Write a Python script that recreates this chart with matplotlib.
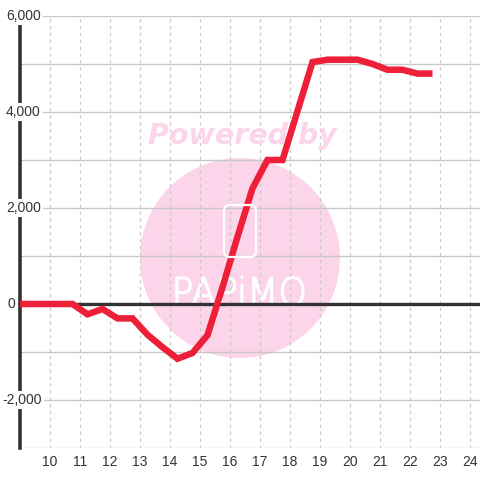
import matplotlib
matplotlib.use("Agg")
import matplotlib.pyplot as plt
from matplotlib.patches import Circle, FancyBboxPatch, PathPatch
from matplotlib.textpath import TextPath
from matplotlib.font_manager import FontProperties
from matplotlib.transforms import Affine2D

hours = [8.75, 9.25, 9.75, 10.25, 10.75, 11.25, 11.75, 12.25, 12.75, 13.25,
         13.75, 14.25, 14.75, 15.25, 15.75, 16.25, 16.75, 17.25, 17.75, 18.25,
         18.75, 19.25, 19.75, 20.25, 20.75, 21.25, 21.75, 22.25, 22.75]
values = [0, 0, 0, 0, 0, -215, -104, -300, -300, -640,
          -900, -1140, -1020, -650, 350, 1400, 2410, 3000, 3000, 4020,
          5040, 5090, 5090, 5090, 5000, 4880, 4880, 4800, 4800]
x_ticks = list(range(10, 25))
y_ticks = [-2000, 0, 2000, 4000, 6000]
y_grid = list(range(-3000, 7000, 1000))

plt.rcParams['font.family'] = ['Liberation Sans', 'DejaVu Sans']

fig = plt.figure(figsize=(4.8, 4.8), dpi=100)
ax = fig.add_axes([20/480, 32/480, 460/480, 432/480])
ax.set_xlim(9, 9 + 460/30)
ax.set_ylim(-3000, 6000)

for s in ['top', 'right', 'bottom']:
    ax.spines[s].set_visible(False)
ax.spines['left'].set_color('#333333')
ax.spines['left'].set_linewidth(2.6)
ax.spines['left'].set_zorder(4)

# grid
for yv in y_grid:
    ax.axhline(yv, color='#c8c8c8', lw=1.0, zorder=1)
for xv in x_ticks:
    ax.axvline(xv, color='#c8c8c8', lw=0.9, ls=(0, (2.5, 3)), zorder=1)
ax.axhline(0, color='#333333', lw=2.4, zorder=3)

# watermark
pink = '#fcd5ea'
ax.add_patch(Circle((240, 480-258), 100, transform=None, facecolor=pink,
                    edgecolor='none', zorder=0))
fig.text(242/480, 1 - 136/480, 'Powered by', color=pink, fontsize=20.5,
         fontweight='bold', style='italic', ha='center', va='center',
         family=['DejaVu Sans'], zorder=0)
fig.patches.append(FancyBboxPatch((224/480, 1 - 257/480), 32/480, 52/480,
                                  boxstyle='round,pad=0,rounding_size=0.012',
                                  transform=fig.transFigure, facecolor='none',
                                  edgecolor='white', lw=1.6, zorder=0.5))
tp = TextPath((0, 0), 'PAPiMO', size=10,
              prop=FontProperties(family='DejaVu Sans', weight='ultralight'))
bb = tp.get_extents()
sx = 128 / bb.width
sy = 30 / bb.height
tpath = Affine2D().translate(-bb.x0, -bb.y0).scale(sx, sy).translate(176, 480-306).transform_path(tp)
ax.add_patch(PathPatch(tpath, transform=None, facecolor='white',
                       edgecolor='white', lw=1.0, zorder=0.6))

ax.plot(hours, values, color='#ee1f38', lw=4.7, solid_joinstyle='miter',
        solid_capstyle='butt', zorder=5, clip_on=True)

ax.set_xticks(x_ticks)
ax.set_xticklabels([str(t) for t in x_ticks])
ax.tick_params(axis='x', length=0, pad=5, labelsize=10, labelcolor='#333333')
ax.set_yticks([])

for yv in y_ticks:
    left_px = 6 if yv >= 0 else 2.5
    if yv == 0:
        left_px = 8
    fig.text(left_px/480, 32/480 + (yv + 3000)/9000*432/480, f'{yv:,}',
             ha='left', va='center', fontsize=10, color='#333333', zorder=6,
             bbox=dict(facecolor='white', edgecolor='none', pad=1.5))

fig.savefig('out.png', dpi=100)
